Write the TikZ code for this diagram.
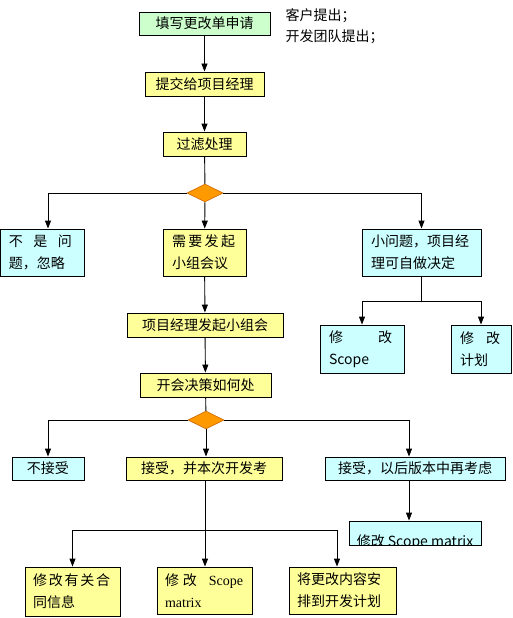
\documentclass[tikz,border=0pt]{standalone}
\usepackage{fontspec}
\setmainfont{Noto Sans CJK SC}
\newfontfamily\lser{Liberation Serif}
\usetikzlibrary{shapes.geometric,arrows.meta}
\definecolor{cgreen}{HTML}{CCFFCC}
\definecolor{cyel}{HTML}{FFFF99}
\definecolor{ccyan}{HTML}{CCFFFF}
\definecolor{corange}{HTML}{FF9900}
\definecolor{cdorange}{HTML}{CC6600}
\begin{document}
\begin{tikzpicture}[x=1pt,y=-1pt,
  box/.style={draw=black, line width=0.9pt, inner xsep=9pt, inner ysep=0pt, font=\fontsize{14}{22}\selectfont},
  gbox/.style={box, fill=cgreen},
  ybox/.style={box, fill=cyel},
  cbox/.style={box, fill=ccyan},
  dec/.style={diamond, draw=cdorange, fill=corange, line width=0.6pt, minimum width=36pt, minimum height=18pt, inner sep=0pt},
  arr/.style={-{Triangle[length=8pt,width=6pt]}, line width=0.9pt},
  ln/.style={line width=0.9pt},
  note/.style={anchor=west, font=\fontsize{14}{16}\selectfont}]
\useasboundingbox (0,0) rectangle (512,618);
\fill[white] (0,0) rectangle (512,618);

% top
\node[gbox, minimum width=131pt, minimum height=23pt] (b1) at (204.5,23.5) {填写更改单申请};
\node[note] (n1) at (282,16) {客户提出；};
\node[note] (n2) at (282,37) {开发团队提出；};
\node[ybox, minimum width=119pt, minimum height=24pt] (b2) at (204.5,84) {提交给项目经理};
\node[ybox, minimum width=83pt, minimum height=24pt] (b3) at (204.5,144) {过滤处理};
\node[dec] (d1) at (205,193) {};

% second row
\node[cbox, text width=66pt, minimum height=47pt, align=left] (L1) at (42,252.5)
  {\makebox[63pt][s]{不\hfill 是\hfill 问}\\题，忽略};
\node[ybox, text width=65pt, minimum height=47pt, align=left] (M1) at (204.5,252.5)
  {\makebox[63pt][s]{需\hfill 要\hfill 发\hfill 起}\\小组会议};
\node[cbox, text width=101pt, minimum height=47pt, align=left] (R1) at (421.5,252.5)
  {小问题，项目经\\理可自做决定};

\node[cbox, text width=66pt, minimum height=48pt, align=left] (RS) at (362,349)
  {\makebox[63pt][s]{修\hfill 改}\\Scope};
\node[cbox, text width=42pt, minimum height=48pt, align=left] (RP) at (481,349)
  {\makebox[40pt][s]{修\hfill 改}\\计划};

% middle
\node[ybox, minimum width=156pt, minimum height=24pt] (P1) at (205,325) {项目经理发起小组会};
\node[ybox, minimum width=131pt, minimum height=24pt] (P2) at (205.5,385) {开会决策如何处};
\node[dec] (d2) at (206,420) {};

\node[cbox, minimum width=72pt, minimum height=23pt] (A1) at (48,468.5) {不接受};
\node[ybox, minimum width=156pt, minimum height=23pt] (A2) at (204,468.5) {接受，并本次开发考};
\node[cbox, minimum width=180pt, minimum height=23pt] (A3) at (415,468.5) {接受，以后版本中再考虑};

\node[cbox, minimum width=132pt, minimum height=24pt] (SM) at (415,533) {};
\begin{scope}
  \clip (SM.north west) rectangle (SM.south east);
  \node[font=\fontsize{14}{16}\selectfont] (SMt) at (415,542) {修改 Scope matrix};
\end{scope}

% bottom
\node[ybox, text width=79pt, minimum height=49pt, inner xsep=8pt, align=left] (B1) at (72.5,591.5)
  {\makebox[77pt][s]{修\hfill 改\hfill 有\hfill 关\hfill 合}\\同信息};
\node[ybox, text width=79pt, minimum height=47pt, inner xsep=8pt, align=left] (B2) at (204.5,590.5)
  {\makebox[78pt][s]{修\hspace{4pt}改\hfill\lser Scope}\\{\lser matrix}};
\node[ybox, text width=91pt, minimum height=47pt, inner xsep=8pt, align=left] (B3) at (342.5,590.5)
  {将更改内容安\\排到开发计划};

% connectors
\draw[arr] (b1) -- (b2);
\draw[arr] (b2) -- (b3);
\draw[ln] (b3) -- (d1);
\draw[arr] (d1.west) -| ([xshift=6pt]L1.north);
\draw[arr] (d1) -- (M1);
\draw[arr] (d1.east) -| (R1.north);

\coordinate (j1) at (421.5,301);
\draw[ln] (R1) -- (j1);
\draw[arr] (j1) -| (RS.north);
\draw[arr] (j1) -| (RP.north);

\draw[arr] (M1) -- (P1);
\draw[arr] (P1) -- (P2);
\draw[ln] (P2) -- (d2);
\draw[arr] (d2.west) -| (A1.north);
\draw[arr] (d2.south) -- (d2.south |- A2.north);
\draw[arr] (d2.east) -| ([xshift=-6pt]A3.north);
\draw[arr] ([xshift=-6pt]A3.south) -- ([xshift=-6pt]SM.north);

\coordinate (j2) at (205,530);
\draw[arr] ([xshift=1pt]A2.south) -- ([xshift=0.5pt]B2.north);
\draw[arr] (j2) -| (B1.north);
\draw[arr] (j2) -| ([xshift=-5.5pt]B3.north);
\end{tikzpicture}
\end{document}
